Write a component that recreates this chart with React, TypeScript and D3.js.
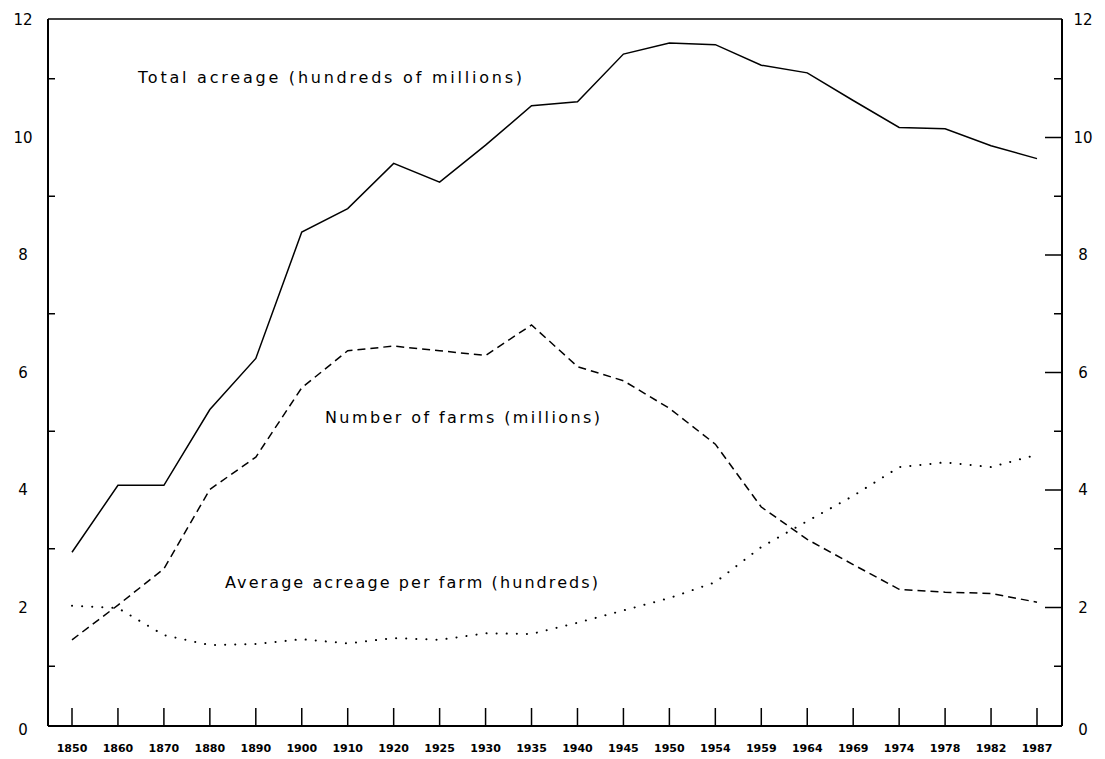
import React from 'react';
import * as d3 from 'd3';

const W = 1105;
const H = 759;

const years = ['1850', '1860', '1870', '1880', '1890', '1900', '1910', '1920', '1925', '1930', '1935',
  '1940', '1945', '1950', '1954', '1959', '1964', '1969', '1974', '1978', '1982', '1987'];

// hundreds of millions of acres
const totalAcreage = [2.94, 4.08, 4.08, 5.37, 6.24, 8.39, 8.79, 9.56, 9.24, 9.87, 10.54,
  10.61, 11.42, 11.61, 11.58, 11.23, 11.1, 10.63, 10.17, 10.15, 9.86, 9.64];

// millions
const numFarms = [1.45, 2.04, 2.66, 4.01, 4.56, 5.74, 6.37, 6.45, 6.37, 6.29, 6.81,
  6.1, 5.86, 5.39, 4.78, 3.71, 3.16, 2.73, 2.31, 2.26, 2.24, 2.09];

// hundreds of acres
const avgAcreage = [2.03, 1.99, 1.53, 1.36, 1.38, 1.46, 1.39, 1.48, 1.45, 1.56, 1.55,
  1.74, 1.95, 2.16, 2.43, 3.03, 3.47, 3.9, 4.39, 4.47, 4.39, 4.6];

const yTicks = [0, 2, 4, 6, 8, 10, 12];
const yMinor = [1, 3, 5, 7, 9, 11];

const LEFT = 48;
const RIGHT = 1062;
const TOP = 19;
const BOTTOM = 725;

export default function App() {
  const x = d3.scalePoint<string>().domain(years).range([72, 1037]);
  const y = d3.scaleLinear().domain([0, 12]).range([BOTTOM, TOP + 1]);

  const line = d3.line<number>()
    .x((_, i) => x(years[i]) as number)
    .y(d => y(d));

  const font = 'DejaVu Sans, sans-serif';

  return (
    <svg width={W} height={H} style={{ position: 'absolute', left: 0, top: 0, background: '#fff' }}>
      {/* frame */}
      <line x1={LEFT} x2={RIGHT} y1={TOP} y2={TOP} stroke="#000" strokeWidth={1.5} />
      <line x1={LEFT} x2={RIGHT} y1={BOTTOM + 1} y2={BOTTOM + 1} stroke="#000" strokeWidth={2} />
      <line x1={LEFT} x2={LEFT} y1={TOP} y2={BOTTOM + 1} stroke="#000" strokeWidth={2} />
      <line x1={RIGHT} x2={RIGHT} y1={TOP} y2={BOTTOM + 1} stroke="#000" strokeWidth={2} />

      {/* left axis: minor ticks only, labels at evens */}
      {yMinor.map(v => (
        <line key={'lm' + v} x1={LEFT} x2={LEFT + 7} y1={y(v)} y2={y(v)} stroke="#000" strokeWidth={1.5} />
      ))}
      {yTicks.map(v => (
        <text key={'ll' + v} x={23} y={v === 0 ? y(v) + 5 : y(v)} dy="0.36em" textAnchor="middle"
          fontFamily={font} fontSize={15} fill="#000">{v}</text>
      ))}

      {/* right axis */}
      {yTicks.filter(v => v > 0 && v < 12).map(v => (
        <line key={'rt' + v} x1={RIGHT - 17} x2={RIGHT} y1={y(v)} y2={y(v)} stroke="#000" strokeWidth={1.5} />
      ))}
      {yMinor.map(v => (
        <line key={'rm' + v} x1={RIGHT - 8} x2={RIGHT} y1={y(v)} y2={y(v)} stroke="#000" strokeWidth={1.5} />
      ))}
      {yTicks.map(v => (
        <text key={'rl' + v} x={1083} y={v === 0 ? y(v) + 5 : y(v)} dy="0.36em" textAnchor="middle"
          fontFamily={font} fontSize={15} fill="#000">{v}</text>
      ))}

      {/* x axis ticks and labels */}
      {years.map(yr => (
        <g key={yr}>
          <line x1={x(yr)} x2={x(yr)} y1={BOTTOM + 1} y2={BOTTOM - 17} stroke="#000" strokeWidth={1.5} />
          <text x={x(yr)} y={748} dy="0.36em" textAnchor="middle" fontFamily={font}
            fontSize={11} fontWeight="bold" fill="#000">{yr}</text>
        </g>
      ))}

      {/* series */}
      <path d={line(totalAcreage) || ''} fill="none" stroke="#000" strokeWidth={1.5} />
      <path d={line(numFarms) || ''} fill="none" stroke="#000" strokeWidth={1.5} strokeDasharray="8,5" />
      <path d={line(avgAcreage) || ''} fill="none" stroke="#000" strokeWidth={2}
        strokeDasharray="0.1,10" strokeLinecap="round" />

      {/* series labels */}
      <text x={138} y={77} dy="0.36em" fontFamily={font} fontSize={16} fill="#000"
        textLength={384} lengthAdjust="spacing">Total acreage (hundreds of millions)</text>
      <text x={325} y={417} dy="0.36em" fontFamily={font} fontSize={16} fill="#000"
        textLength={275} lengthAdjust="spacing">Number of farms (millions)</text>
      <text x={225} y={582} dy="0.36em" fontFamily={font} fontSize={16} fill="#000"
        textLength={373} lengthAdjust="spacing">Average acreage per farm (hundreds)</text>
    </svg>
  );
}
